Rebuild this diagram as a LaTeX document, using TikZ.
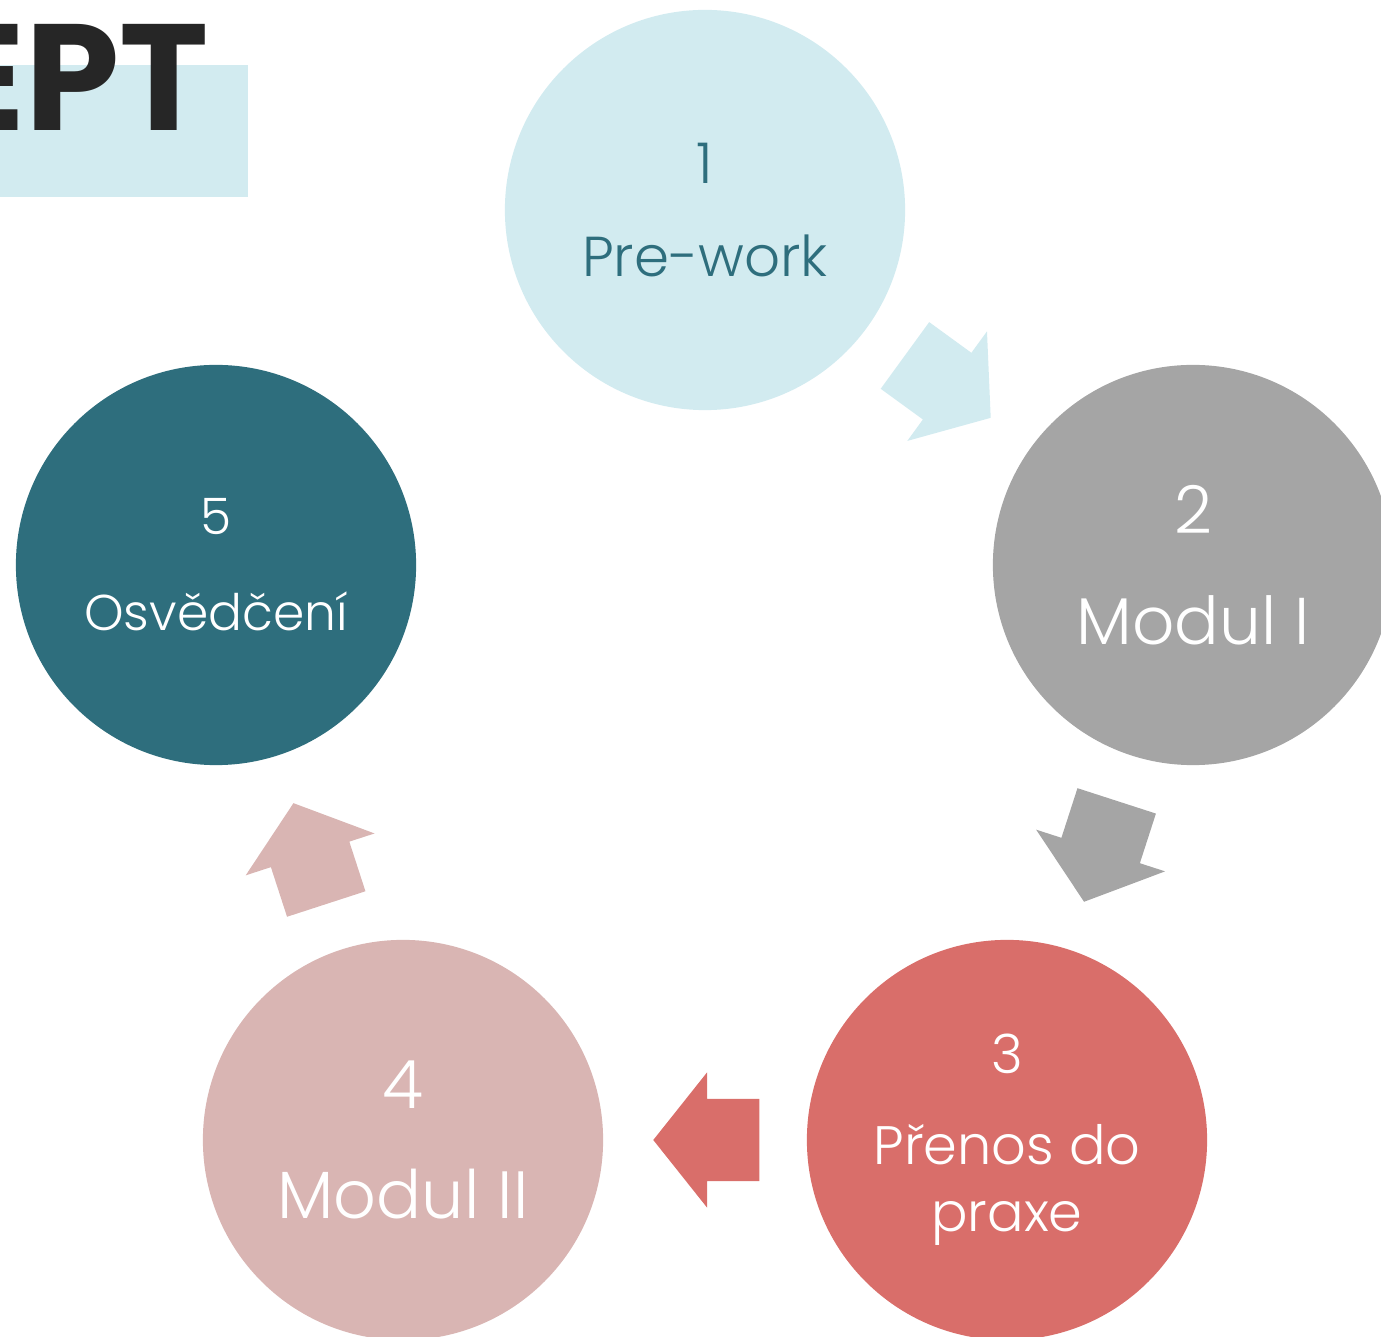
\documentclass[tikz,border=0pt]{standalone}
\usepackage{fontspec}
\setmainfont{Poppins Light}
\newfontfamily\titlefont{Poppins}
\usetikzlibrary{shapes.arrows}
\definecolor{paleblue}{HTML}{D2EBF0}
\definecolor{teal}{HTML}{2E6E7D}
\definecolor{midgray}{HTML}{A5A5A5}
\definecolor{coral}{HTML}{D96E6A}
\definecolor{rose}{HTML}{D9B5B3}
\definecolor{titledark}{HTML}{262626}
\tikzstyle{stage} = [circle, minimum size=4cm, inner sep=0pt, align=center, text=white]
\tikzstyle{flow} = [single arrow, draw=none, inner xsep=0pt, inner ysep=0.405cm, single arrow head extend=0.265cm, single arrow tip angle=103, minimum height=1.06cm, minimum width=1.34cm, sloped, allow upside down, anchor=tip, pos=0.76]

\begin{document}
\begin{tikzpicture}[x=0.01cm, y=-0.01cm]
            \clip (0,0) rectangle (1381,1337);
            \fill [paleblue] (0,65) rectangle (248,197);
            \node [anchor=base east, inner sep=0pt, text=titledark, font=\titlefont\bfseries\fontsize{43}{43}\selectfont] at (210,131) (title) {EPT};
            \node [stage, fill=paleblue, text=teal, font=\fontsize{16}{26.2}\selectfont] at (705,210) (prework) {1\\Pre-work};
            \node [stage, fill=midgray, font=\fontsize{18.8}{31.6}\selectfont] at (1193,565) (modul1) {2\\Modul I};
            \node [stage, fill=coral, font=\fontsize{15.4}{19.2}\selectfont] at (1007,1140) (prenos) {3\\[6.5pt]Přenos do\\praxe};
            \node [stage, fill=rose, font=\fontsize{19}{31.3}\selectfont] at (403,1140) (modul2) {4\\Modul II};
            \node [stage, fill=teal, font=\fontsize{14.3}{27.3}\selectfont] at (216,565) (osvedceni) {5\\Osvědčení};
            \path (prework) -- node [flow, fill=paleblue] (arrow1) {} (modul1);
            \path (modul1) -- node [flow, fill=midgray] (arrow2) {} (prenos);
            \path (prenos) -- node [flow, fill=coral] (arrow3) {} (modul2);
            \path (modul2) -- node [flow, fill=rose] (arrow4) {} (osvedceni);
\end{tikzpicture}
\end{document}
